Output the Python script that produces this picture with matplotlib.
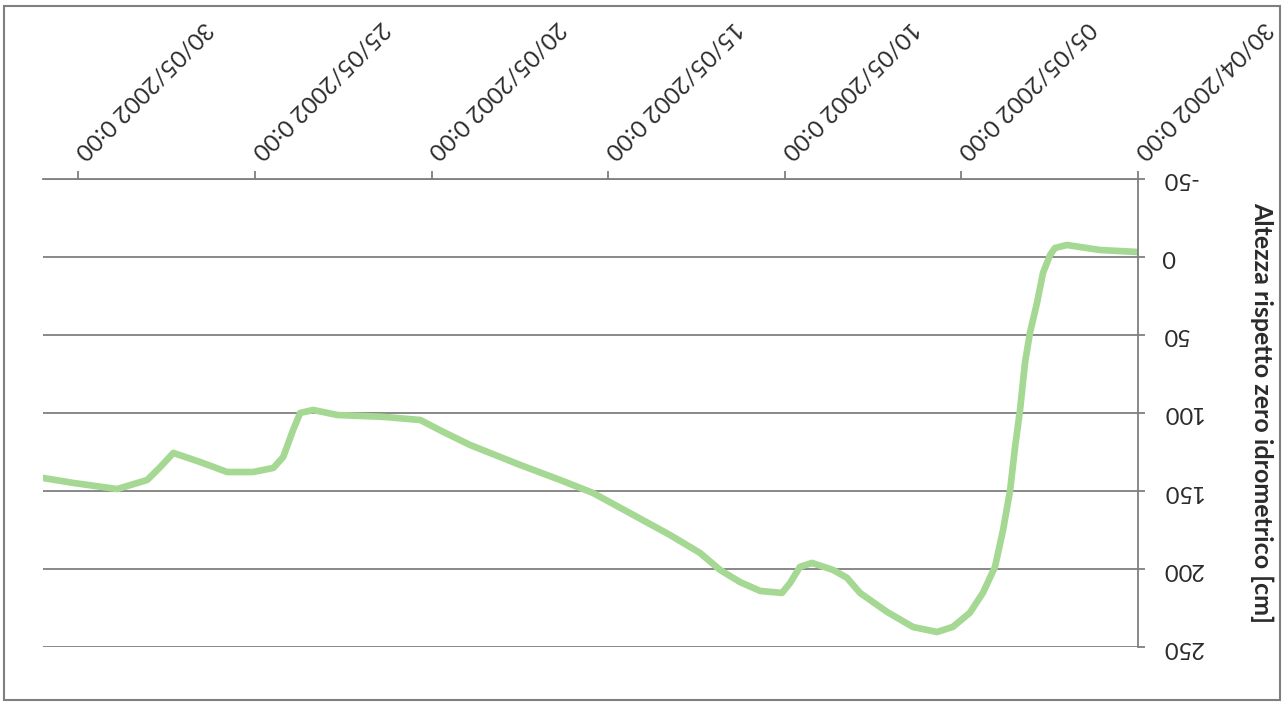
import matplotlib
matplotlib.use("Agg")
import matplotlib.pyplot as plt
import matplotlib.dates as mdates
from matplotlib.ticker import FuncFormatter
from matplotlib.patches import Rectangle
from datetime import datetime, timedelta

plt.rcParams['font.family'] = ['Lato', 'DejaVu Sans']
plt.rcParams['axes.unicode_minus'] = False

# livello idrometrico: giorni dall'inizio (30/04/2002 0:00) e altezza in cm
giorni = [0.0, 1.08, 2.01, 2.35, 2.49, 2.69, 2.86, 3.06, 3.20, 3.34,
          3.48, 3.62, 3.82, 4.05, 4.39, 4.76, 5.24, 5.69, 6.37, 7.10,
          7.87, 8.24, 8.63, 9.23, 9.57, 9.85, 10.08, 10.70, 11.27, 11.83,
          12.40, 13.25, 14.18, 15.43, 16.36, 17.49, 18.91, 19.67, 20.32, 21.37,
          22.67, 23.35, 23.72, 23.92, 24.2, 24.48, 25.05, 25.79, 26.55, 27.31,
          27.68, 28.05, 28.9, 30.14, 31.0]
altezza = [-3.0, -4.3, -7.5, -5.6, -1.1, 10.4, 29.6, 48.8, 68.0, 98.1,
           121.7, 149.3, 174.9, 198.6, 215.1, 227.9, 236.9, 240.2, 237.0, 227.4,
           215.2, 205.5, 200.5, 196.0, 198.5, 208.8, 215.2, 213.9, 208.2, 200.5,
           189.6, 178.1, 166.6, 151.2, 142.9, 133.3, 120.5, 112.1, 104.5, 102.5,
           101.3, 98.1, 100.0, 110.9, 128.2, 135.2, 137.8, 137.8, 131.4, 125.6,
           134.6, 142.9, 148.7, 144.8, 141.6]
tick_giorni = [0, 5, 10, 15, 20, 25, 30]
tick_cm = [-50, 0, 50, 100, 150, 200, 250]

start = datetime(2002, 4, 30)
tempi = [start + timedelta(days=d) for d in giorni]

grigio = '#7f7f7f'
testo = '#2b2b2b'

fig = plt.figure(figsize=(12.84, 7.02), dpi=100)
ax = fig.add_axes([0.0335, 0.0779, 0.8528, 0.6677])

ax.plot(tempi, altezza, color='#a5d893', lw=4.8, solid_capstyle='round',
        solid_joinstyle='round')

# assi capovolti
ax.set_xlim(start + timedelta(days=31), start)
ax.set_ylim(tick_cm[-1], tick_cm[0])
ax.set_yticks(tick_cm)
ax.set_xticks([start + timedelta(days=d) for d in tick_giorni])


def fmt_data(v, pos):
    d = mdates.num2date(v)
    return f"{d:%d/%m/%Y} {d.hour}:{d:%M}"


ax.xaxis.set_major_formatter(FuncFormatter(fmt_data))

ax.grid(axis='y', color=grigio, lw=1.3)
ax.set_axisbelow(True)
for s in ['left', 'bottom']:
    ax.spines[s].set_visible(False)
for s in ['top', 'right']:
    ax.spines[s].set_color(grigio)
    ax.spines[s].set_linewidth(1.3)

ax.xaxis.tick_top()
ax.yaxis.tick_right()
ax.tick_params(axis='x', direction='out', length=6, width=1.3, color=grigio,
               pad=11, labelsize=17, labelcolor=testo)
ax.tick_params(axis='y', direction='out', length=5, width=1.3, color=grigio,
               pad=12, labelsize=17, labelcolor=testo)

for lab in ax.get_xticklabels():
    lab.set_rotation(225)
    lab.set_rotation_mode('anchor')
    lab.set_ha('right')
    lab.set_va('center')
for lab in ax.get_yticklabels():
    lab.set_rotation(180)
    lab.set_ha('left')
    lab.set_va('center')

ax.yaxis.set_label_position('right')
ax.set_ylabel('Altezza rispetto zero idrometrico [cm]', rotation=270,
              fontsize=18, fontweight='bold', color=testo)
ax.yaxis.set_label_coords(1.113, 0.5)
ax.yaxis.label.set_va('center')
ax.yaxis.label.set_ha('center')

# cornice esterna del grafico
fig.patches.append(Rectangle((0.0031, 0.0028), 0.9938, 0.9886,
                             transform=fig.transFigure, fill=False,
                             edgecolor=grigio, lw=1.5))

fig.savefig('out.png', dpi=100)
